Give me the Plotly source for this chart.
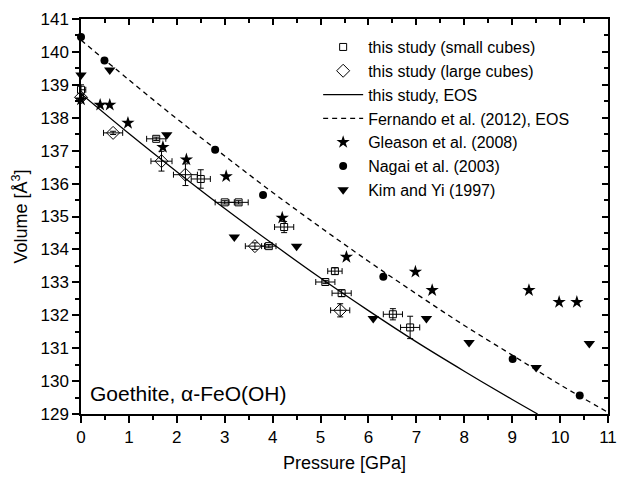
import plotly.graph_objects as go

# --- this study, small cubes ---
small_p = [0.00, 1.57, 2.50, 3.00, 3.29, 3.92, 4.24, 5.10, 5.30, 5.44, 6.51, 6.87]
small_v = [138.85, 137.36, 136.14, 135.43, 135.43, 134.10, 134.68, 133.01, 133.34, 132.67, 132.03, 131.63]
small_perr = [0.10, 0.20, 0.20, 0.20, 0.20, 0.15, 0.20, 0.20, 0.15, 0.20, 0.20, 0.20]
small_verr = [0.15, 0.05, 0.28, 0.05, 0.05, 0.05, 0.17, 0.05, 0.10, 0.10, 0.17, 0.34]

# --- this study, large cubes ---
large_p = [0.00, 0.67, 1.68, 2.18, 3.63, 5.41]
large_v = [138.62, 137.54, 136.68, 136.27, 134.10, 132.15]
large_perr = [0.05, 0.20, 0.22, 0.25, 0.20, 0.20]
large_verr = [0.05, 0.05, 0.30, 0.33, 0.10, 0.20]

# --- EOS curves ---
eos_p = [0, 1, 2, 3, 4, 5, 6, 7, 8, 9, 9.53]
eos_v = [138.73, 137.52, 136.36, 135.24, 134.17, 133.13, 132.14, 131.19, 130.30, 129.44, 129.0]
fern_p = [0, 1, 2, 3, 4, 5, 6, 7, 8, 9, 10, 11]
fern_v = [140.36, 139.15, 137.97, 136.84, 135.73, 134.67, 133.64, 132.65, 131.69, 130.79, 129.89, 129.05]

# --- literature data ---
gleason_p = [0.00, 0.40, 0.60, 0.98, 1.71, 2.20, 3.03, 4.20, 5.54, 6.98, 7.33, 9.35, 9.98, 10.35]
gleason_v = [138.55, 138.39, 138.39, 137.84, 137.11, 136.73, 136.22, 134.96, 133.77, 133.32, 132.76, 132.76, 132.40, 132.40]
nagai_p = [0.00, 0.49, 2.80, 3.80, 6.31, 9.01, 10.41]
nagai_v = [140.45, 139.74, 137.03, 135.65, 133.17, 130.67, 129.56]
kim_p = [0.00, 0.60, 1.79, 3.20, 4.50, 6.10, 7.21, 8.10, 9.50, 10.61]
kim_v = [139.30, 139.45, 137.48, 134.38, 134.10, 131.90, 131.90, 131.17, 130.41, 131.14]

FONT = "Liberation Sans, Arial, sans-serif"
BLACK = "#000000"

fig = go.Figure()

err = dict(type="data", thickness=1, width=3, color=BLACK)

fig.add_trace(go.Scatter(
    x=small_p, y=small_v, mode="markers", name="this study (small cubes)",
    marker=dict(symbol="square-open", size=7, color=BLACK, line=dict(width=1)),
    error_x=dict(array=small_perr, **err), error_y=dict(array=small_verr, **err),
    cliponaxis=False))
fig.add_trace(go.Scatter(
    x=large_p, y=large_v, mode="markers", name="this study (large cubes)",
    marker=dict(symbol="diamond-open", size=10, color=BLACK, line=dict(width=1)),
    error_x=dict(array=large_perr, **err), error_y=dict(array=large_verr, **err),
    cliponaxis=False))
fig.add_trace(go.Scatter(
    x=eos_p, y=eos_v, mode="lines", name="this study, EOS",
    line=dict(color=BLACK, width=1.3, shape="spline")))
fig.add_trace(go.Scatter(
    x=fern_p, y=fern_v, mode="lines", name="Fernando et al. (2012), EOS",
    line=dict(color=BLACK, width=1.3, dash="5px,4px", shape="spline")))
fig.add_trace(go.Scatter(
    x=gleason_p, y=gleason_v, mode="markers", name="Gleason et al. (2008)",
    marker=dict(symbol="star", size=10, color=BLACK, line=dict(width=0)),
    cliponaxis=False))
fig.add_trace(go.Scatter(
    x=nagai_p, y=nagai_v, mode="markers", name="Nagai et al. (2003)",
    marker=dict(symbol="circle", size=8, color=BLACK, line=dict(width=0)),
    cliponaxis=False))
fig.add_trace(go.Scatter(
    x=kim_p, y=kim_v, mode="markers", name="Kim and Yi (1997)",
    marker=dict(symbol="triangle-down", size=10, color=BLACK, line=dict(width=0)),
    cliponaxis=False))

# invisible trace so the mirrored top/right axes are drawn
fig.add_trace(go.Scatter(
    x=fern_p, y=fern_v, xaxis="x2", yaxis="y2", mode="lines",
    line=dict(width=0), opacity=0, showlegend=False, hoverinfo="skip"))

tickfont = dict(family=FONT, size=17, color=BLACK)
axis_common = dict(showgrid=False, zeroline=False, showline=True, linecolor=BLACK,
                   linewidth=1.5, tickcolor=BLACK, tickwidth=1.5, tickfont=tickfont)

fig.update_layout(
    width=627, height=480,
    margin=dict(l=80.5, r=10, t=19, b=65),
    paper_bgcolor="white", plot_bgcolor="white",
    font=dict(family=FONT, color=BLACK),
    showlegend=True,
    legend=dict(x=0.45, y=0.972, xanchor="left", yanchor="top",
                bgcolor="rgba(0,0,0,0)", font=dict(family=FONT, size=16, color=BLACK),
                itemwidth=40, tracegroupgap=0),
    xaxis=dict(range=[0, 11], dtick=1, tick0=0, ticks="outside", ticklen=7,
               minor=dict(dtick=0.5, ticks="outside", ticklen=4, tickcolor=BLACK, tickwidth=1.5),
               title=dict(text="Pressure [GPa]", font=dict(family=FONT, size=18, color=BLACK), standoff=10),
               **axis_common),
    yaxis=dict(range=[129, 141], dtick=1, tick0=129, ticks="outside", ticklen=7,
               minor=dict(dtick=0.5, ticks="outside", ticklen=4, tickcolor=BLACK, tickwidth=1.5),
               title=dict(text="Volume [Å<sup>3</sup>]", font=dict(family=FONT, size=18, color=BLACK), standoff=8),
               **axis_common),
    xaxis2=dict(range=[0, 11], overlaying="x", side="top", dtick=1, tick0=0, ticks="inside",
                ticklen=6, showticklabels=False,
                minor=dict(dtick=0.5, ticks="inside", ticklen=4, tickcolor=BLACK, tickwidth=1.5),
                **axis_common),
    yaxis2=dict(range=[129, 141], overlaying="y", side="right", dtick=1, tick0=129, ticks="inside",
                ticklen=6, showticklabels=False,
                minor=dict(dtick=0.5, ticks="inside", ticklen=4, tickcolor=BLACK, tickwidth=1.5),
                **axis_common),
)

fig.add_annotation(x=0.15, y=129.62, xref="x", yref="y", xanchor="left", yanchor="middle",
                   text="Goethite, α-FeO(OH)", showarrow=False,
                   font=dict(family=FONT, size=21, color=BLACK))

fig.write_html("out.html")
